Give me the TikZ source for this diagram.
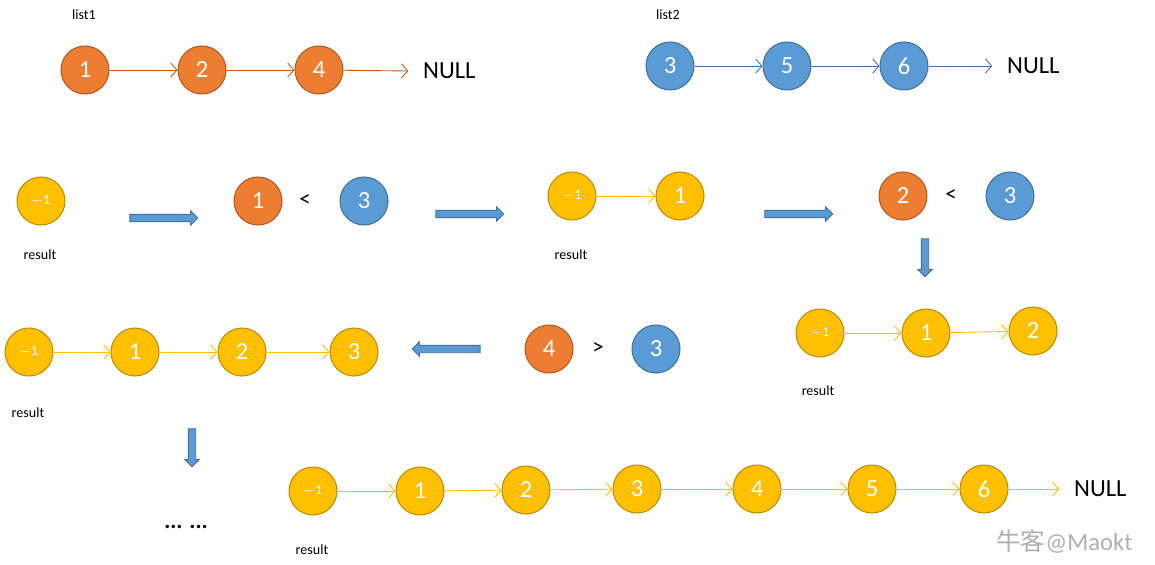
\documentclass[tikz,border=0pt]{standalone}
\usepackage{fontspec}
\setmainfont{Carlito}
\newfontfamily\cjkfont{Noto Sans CJK SC}
\usepackage{xcolor}
\usepackage{tikz}
\usetikzlibrary{arrows.meta, positioning, shapes.arrows}
\definecolor{LOrange}{RGB}{237, 125, 49}
\definecolor{LOrangeEdge}{RGB}{174, 90, 33}
\definecolor{LOrangeLine}{RGB}{197, 90, 17}
\definecolor{LBlue}{RGB}{91, 155, 213}
\definecolor{LBlueEdge}{RGB}{65, 113, 156}
\definecolor{LYellow}{RGB}{255, 192, 0}
\definecolor{LYellowEdge}{RGB}{188, 140, 0}
\definecolor{LMark}{RGB}{175, 175, 175}

\tikzset{
  listnode/.style={circle, minimum size=0.96cm, inner sep=0pt, line width=0.6pt,
                   text=white, font=\fontsize{14}{16}\selectfont},
  onode/.style={listnode, fill=LOrange, draw=LOrangeEdge},
  bnode/.style={listnode, fill=LBlue, draw=LBlueEdge},
  ynode/.style={listnode, fill=LYellow, draw=LYellowEdge},
  headnode/.style={ynode, font=\fontsize{8}{9}\selectfont},
  olink/.style={draw=LOrangeLine, line width=0.5pt, -{Straight Barb[length=3.5pt,width=8pt]}},
  blink/.style={draw=LBlueEdge, line width=0.5pt, -{Straight Barb[length=3.5pt,width=8pt]}},
  ylink/.style={draw=LYellow, line width=0.5pt, -{Straight Barb[length=3.5pt,width=8pt]}},
  bigstep/.style={single arrow, draw=LBlueEdge, fill=LBlue, line width=0.5pt,
                  minimum height=1.36cm, inner xsep=0pt, inner ysep=0.065cm,
                  single arrow head extend=0.07cm},
  downstep/.style={bigstep, shape border rotate=270, minimum height=0.76cm,
                   inner xsep=0.065cm, inner ysep=0pt},
  nulltext/.style={font=\fontsize{14}{16}\selectfont, anchor=west},
  smalltext/.style={font=\fontsize{8}{10}\selectfont},
  cmptext/.style={font=\fontsize{13}{15}\selectfont}
}

\begin{document}
\begin{tikzpicture}[x=0.02cm, y=-0.02cm]
  \useasboundingbox (0,0) rectangle (1155,564);

  % list1
  \node[smalltext] (lab1) at (84,15) {list1};
  \node[onode] (a1) at (85,70) {1};
  \node[onode] (a2) at (202,70) {2};
  \node[onode] (a4) at (319,70) {4};
  \node[nulltext] (anull) at (417,71) {NULL};
  \draw[olink] (a1) -- (a2);
  \draw[olink] (a2) -- (a4);
  \draw[olink] (a4) -- ([xshift=-5pt]anull.west);

  % list2
  \node[smalltext] (lab2) at (668,15) {list2};
  \node[bnode] (b3) at (670,66) {3};
  \node[bnode] (b5) at (787,66) {5};
  \node[bnode] (b6) at (904,66) {6};
  \node[nulltext] (bnull) at (1001,66) {NULL};
  \draw[blink] (b3) -- (b5);
  \draw[blink] (b5) -- (b6);
  \draw[blink] (b6) -- ([xshift=-5pt]bnull.west);

  % step 0
  \node[headnode] (r0) at (41,201) {$-$1};
  \node[smalltext] (res0) at (40,255) {result};
  \node[bigstep] (go1) at (162,218) {};
  \node[onode] (c1) at (258,201) {1};
  \node[cmptext] (lt1) at (305,201) {<};
  \node[bnode] (c3) at (364,201) {3};
  \node[bigstep] (go2) at (468,214) {};

  % step 1
  \node[headnode] (r1) at (572,196) {$-$1};
  \node[ynode] (r1a) at (680,196) {1};
  \node[smalltext] (res1) at (571,255) {result};
  \draw[ylink] (r1) -- (r1a);
  \node[bigstep] (go3) at (797,214) {};
  \node[onode] (d2) at (903,196) {2};
  \node[cmptext] (lt2) at (951,196) {<};
  \node[bnode] (d3) at (1010,196) {3};
  \node[downstep] (go4) at (925,256) {};

  % step 2
  \node[headnode] (r2) at (820,333) {$-$1};
  \node[ynode] (r2a) at (926,333) {1};
  \node[ynode] (r2b) at (1033,331) {2};
  \node[smalltext] (res2) at (818,391) {result};
  \draw[ylink] (r2) -- (r2a);
  \draw[ylink] (r2a) -- (r2b);

  % step 3
  \node[onode] (e4) at (549,349) {4};
  \node[cmptext] (gt1) at (598,349) {>};
  \node[bnode] (e3) at (656,349) {3};
  \node[bigstep, shape border rotate=180] (go5) at (448,349) {};
  \node[headnode] (r3) at (29,352) {$-$1};
  \node[ynode] (r3a) at (135,352) {1};
  \node[ynode] (r3b) at (242,352) {2};
  \node[ynode] (r3c) at (354,352) {3};
  \node[smalltext] (res3) at (28,413) {result};
  \draw[ylink] (r3) -- (r3a);
  \draw[ylink] (r3a) -- (r3b);
  \draw[ylink] (r3b) -- (r3c);
  \node[downstep] (go6) at (192,446) {};
  \node[cmptext] (dots) at (186,527) {\textbf{... ...}};

  % final
  \node[headnode] (f0) at (313,491) {$-$1};
  \node[ynode] (f1) at (420,491) {1};
  \node[ynode] (f2) at (526,490) {2};
  \node[ynode] (f3) at (637,489) {3};
  \node[ynode] (f4) at (757,489) {4};
  \node[ynode] (f5) at (872,489) {5};
  \node[ynode] (f6) at (984,489) {6};
  \node[nulltext, text=black] (fnull) at (1068,489) {NULL};
  \node[smalltext] (res4) at (312,550) {result};
  \draw[ylink] (f0) -- (f1);
  \draw[ylink] (f1) -- (f2);
  \draw[ylink] (f2) -- (f3);
  \draw[ylink] (f3) -- (f4);
  \draw[ylink] (f4) -- (f5);
  \draw[ylink] (f5) -- (f6);
  \draw[ylink] (f6) -- ([xshift=-5pt]fnull.west);

  % watermark
  \node[text=LMark, font=\fontsize{14}{16}\selectfont, anchor=west] (mark) at (990,541) {{\cjkfont 牛客}@Maokt};
\end{tikzpicture}
\end{document}
